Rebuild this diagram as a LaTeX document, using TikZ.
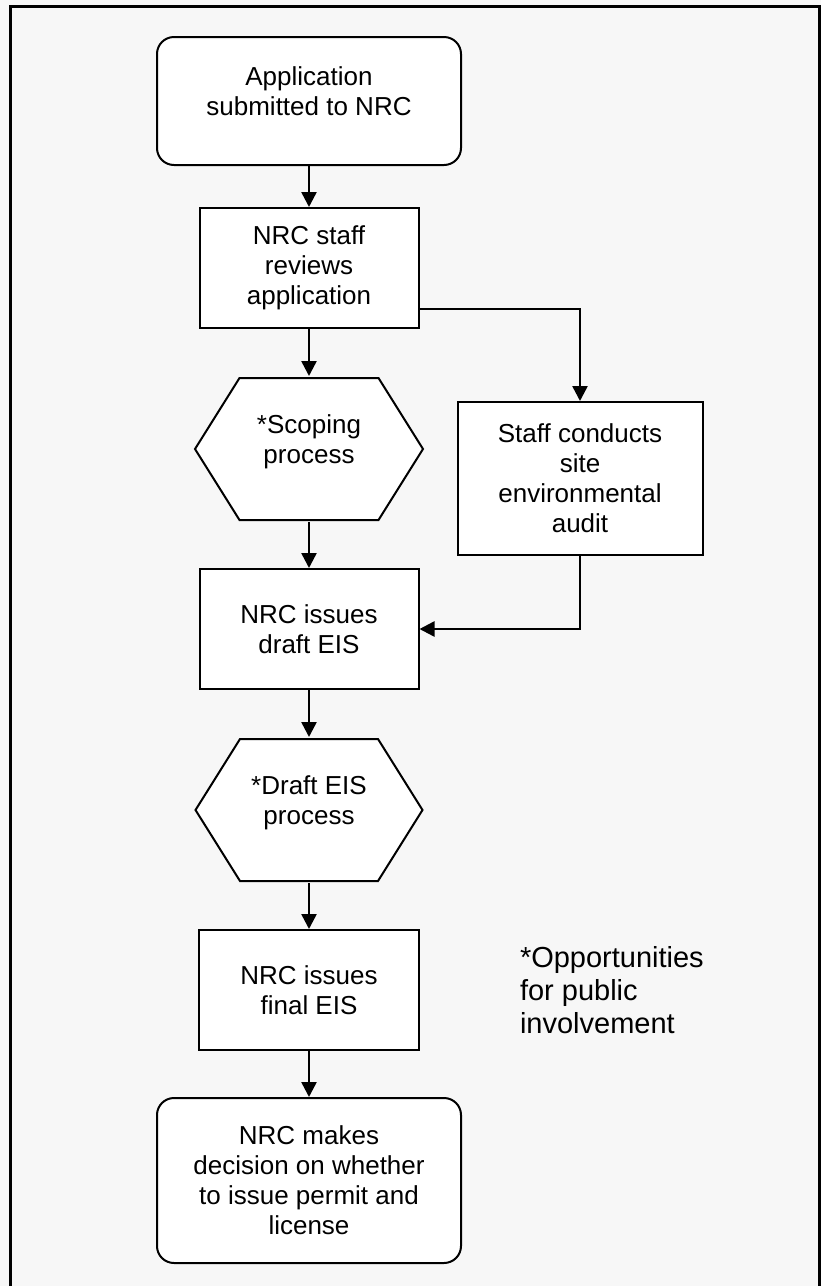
\documentclass[tikz,border=0pt]{standalone}
\usepackage{fontspec}
\setmainfont{Liberation Sans}
\usepackage{tikz}
\usetikzlibrary{positioning,arrows.meta,calc}
\definecolor{pagebg}{HTML}{F7F7F7}
\definecolor{ink}{HTML}{000000}
\newcommand{\flowfont}{\fontsize{26pt}{30pt}\selectfont}
\newcommand{\notefont}{\fontsize{29pt}{33pt}\selectfont}
\tikzset{
  termbox/.style={draw=ink,rounded corners=17pt,fill=white,align=center,font=\flowfont,
                  inner sep=2pt,minimum width=304pt,minimum height=#1},
  termbox/.default=128pt,
  stepbox/.style={draw=ink,fill=white,align=center,font=\flowfont,
                  inner sep=2pt,minimum width=#1,minimum height=120pt},
  stepbox/.default=219pt,
  hexbox/.style={align=center,font=\flowfont,inner sep=2pt,minimum width=#1,minimum height=144pt,
    path picture={
      \draw[draw=ink,fill=white]
        ([xshift=1.5pt]path picture bounding box.west)
        -- ([xshift=46pt,yshift=-1pt]path picture bounding box.north west)
        -- ([xshift=-46pt,yshift=-1pt]path picture bounding box.north east)
        -- ([xshift=-1.5pt]path picture bounding box.east)
        -- ([xshift=-46pt,yshift=1pt]path picture bounding box.south east)
        -- ([xshift=46pt,yshift=1pt]path picture bounding box.south west)
        -- cycle;
    }},
  hexbox/.default=231pt,
  note/.style={align=left,font=\notefont,inner sep=0pt,anchor=west},
  flow/.style={-{Triangle[length=15pt,width=15pt]},draw=ink,line width=2.5pt},
}
\begin{document}
\begin{tikzpicture}[line width=2pt]
  \useasboundingbox (0,0) rectangle (821pt,-1286pt);
  \fill[pagebg] (0,0) rectangle (821pt,-1286pt);
  \draw[ink,line width=3pt] (10pt,-1286pt) -- (10pt,-6.5pt) -- (819.5pt,-6.5pt) -- (819.5pt,-1286pt);
  \node[termbox] (app) at (309pt,-101pt) {Application\\ submitted to NRC\\[-10pt]\mbox{}};
  \node[stepbox, below=41pt of app] (review) {NRC staff\\ reviews\\ application};
  \node[hexbox, below=47pt of review] (scoping) {*Scoping\\ process\\[-10pt]\mbox{}};
  \node[stepbox=245pt, minimum height=153pt, below right=72pt and 37pt of review] (audit) {Staff conducts\\ site\\ environmental\\ audit};
  \node[stepbox, below=46pt of scoping] (draft) {NRC issues\\ draft EIS};
  \node[hexbox=230pt, below=47pt of draft] (draftproc) {*Draft EIS\\ process\\[-10pt]\mbox{}};
  \node[stepbox=220pt, below=46pt of draftproc] (final) {NRC issues\\ final EIS};
  \node[termbox=165pt, below=46pt of final] (decision) {NRC makes\\ decision on whether\\ to issue permit and\\ license};
  \node[note, right=99pt of final] (public) {*Opportunities\\ for public\\ involvement};
  \draw[flow] (app) -- (review);
  \draw[flow] (review) -- (scoping);
  \draw[flow] ([yshift=20pt]review.south east) -| (audit.north);
  \draw[flow] (scoping) -- (draft);
  \draw[flow] (audit.south) |- (draft.east);
  \draw[flow] (draft) -- (draftproc);
  \draw[flow] (draftproc) -- (final);
  \draw[flow] (final) -- (decision);
\end{tikzpicture}
\end{document}
